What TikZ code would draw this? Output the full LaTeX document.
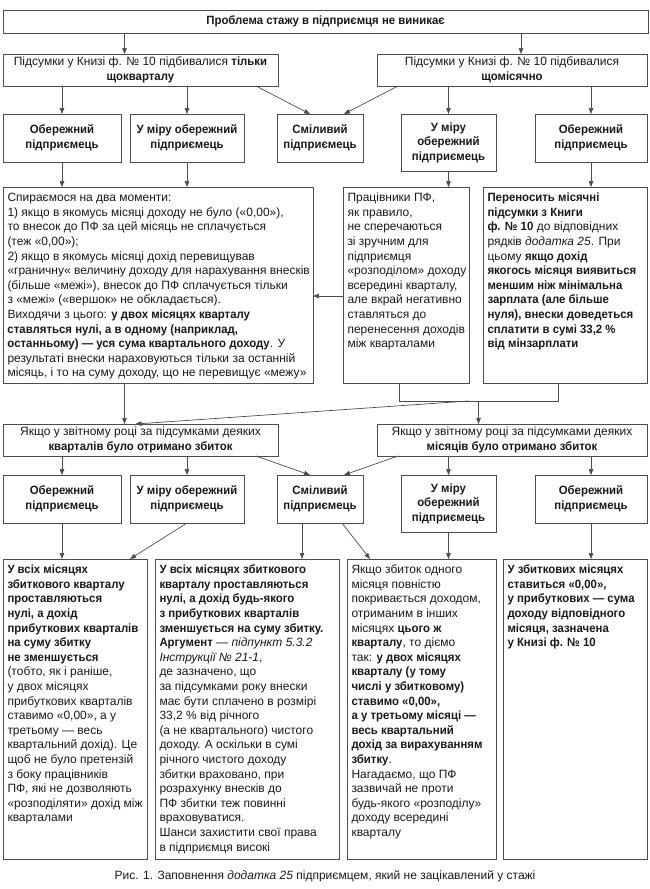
\documentclass[tikz,border=0pt]{standalone}
\usepackage{fontspec}
\setmainfont{Liberation Sans}[BoldFeatures={FakeStretch=0.95}]
\usetikzlibrary{arrows.meta,calc}
\AtBeginDocument{\fontsize{12}{14.6}\selectfont}

\definecolor{linec}{gray}{0.3}
\definecolor{textc}{gray}{0.1}

\tikzstyle{hbox} = [draw=linec, line width=0.9pt, anchor=north west, inner sep=2pt, outer sep=0pt, align=center, text=textc]
\tikzstyle{pbox} = [hbox, font=\bfseries]
\tikzstyle{tbox} = [draw=linec, line width=0.9pt, anchor=north west, inner xsep=4.5pt, inner ysep=4.5pt, outer sep=0pt, text=textc]
\tikzstyle{arr} = [draw=linec, line width=0.7pt, -{Triangle[length=6pt,width=4.5pt]}]
\tikzstyle{conn} = [draw=linec, line width=0.7pt]
\tikzstyle{captext} = [text=textc]

\newcommand{\boxtext}[3]{\parbox[c][#1][t]{#2}{\begin{tabular}[t]{@{}l@{}}#3\end{tabular}}}

\begin{document}
\begin{tikzpicture}[x=1pt,y=-1pt]
\useasboundingbox (0,0) rectangle (650,889);

\node[pbox, minimum width=645pt, minimum height=23pt] (top) at (3,10) {Проблема стажу в підприємця не виникає};

\node[hbox, minimum width=275pt, minimum height=32pt] (r2l) at (3,54) {Підсумки у Книзі ф. № 10 підбивалися \textbf{тільки}\\ \textbf{щокварталу}};
\node[hbox, minimum width=270pt, minimum height=32pt] (r2r) at (377,54) {Підсумки у Книзі ф. № 10 підбивалися\\ \textbf{щомісячно}};

\node[pbox, minimum width=118pt, minimum height=48pt] (r3b1) at (3,114) {Обережний\\ підприємець};
\node[pbox, minimum width=114pt, minimum height=48pt] (r3b2) at (130,114) {У міру обережний\\ підприємець};
\node[pbox, minimum width=86pt, minimum height=48pt] (r3b3) at (277,114) {Сміливий\\ підприємець};
\node[pbox, minimum width=95pt, minimum height=57pt] (r3b4) at (401,114) {У міру\\ обережний\\ підприємець};
\node[pbox, minimum width=112pt, minimum height=48pt] (r3b5) at (535,114) {Обережний\\ підприємець};

\node[tbox] (r4l) at (3,187) {\boxtext{187pt}{301pt}{Спираємося на два моменти:\\
1) якщо в якомусь місяці доходу не було («0,00»),\\
то внесок до ПФ за цей місяць не сплачується\\
(теж «0,00»);\\
2) якщо в якомусь місяці дохід перевищував\\
«граничну« величину доходу для нарахування внесків\\
(більше «межі»), внесок до ПФ сплачується тільки\\
з «межі» («вершок» не обкладається).\\
Виходячи з цього: \textbf{у двох місяцях кварталу}\\
\textbf{ставляться нулі, а в одному (наприклад,}\\
\textbf{останньому) — уся сума квартального доходу}. У\\
результаті внески нараховуються тільки за останній\\
місяць, і то на суму доходу, що не перевищує «межу»}};
\node[tbox] (r4m) at (343,187) {\boxtext{187pt}{117pt}{Працівники ПФ,\\ як правило,\\ не сперечаються\\ зі зручним для\\ підприємця\\ «розподілом» доходу\\ всередині кварталу,\\ але вкрай негативно\\ ставляться до\\ перенесення доходів\\ між кварталами}};
\node[tbox] (r4r) at (483,187) {\boxtext{187pt}{155pt}{\textbf{Переносить місячні}\\ \textbf{підсумки з Книги}\\ \textbf{ф. № 10} до відповідних\\ рядків \textit{додатка 25}. При\\ цьому \textbf{якщо дохід}\\ \textbf{якогось місяця виявиться}\\ \textbf{меншим ніж мінімальна}\\ \textbf{зарплата (але більше}\\ \textbf{нуля), внески доведеться}\\ \textbf{сплатити в сумі 33,2 \%}\\ \textbf{від мінзарплати}}};

\node[hbox, minimum width=275pt, minimum height=32pt] (r5l) at (3,424) {Якщо у звітному році за підсумками деяких\\ \textbf{кварталів було отримано збиток}};
\node[hbox, minimum width=270pt, minimum height=32pt] (r5r) at (377,424) {Якщо у звітному році за підсумками деяких\\ \textbf{місяців було отримано збиток}};

\node[pbox, minimum width=118pt, minimum height=48pt] (r6b1) at (3,475) {Обережний\\ підприємець};
\node[pbox, minimum width=114pt, minimum height=48pt] (r6b2) at (130,475) {У міру обережний\\ підприємець};
\node[pbox, minimum width=86pt, minimum height=48pt] (r6b3) at (277,475) {Сміливий\\ підприємець};
\node[pbox, minimum width=95pt, minimum height=57pt] (r6b4) at (401,475) {У міру\\ обережний\\ підприємець};
\node[pbox, minimum width=112pt, minimum height=48pt] (r6b5) at (535,475) {Обережний\\ підприємець};

\node[tbox] (r7b1) at (3,559) {\boxtext{291pt}{135pt}{\textbf{У всіх місяцях}\\ \textbf{збиткового кварталу}\\ \textbf{проставляються}\\ \textbf{нулі, а дохід}\\ \textbf{прибуткових кварталів}\\ \textbf{на суму збитку}\\ \textbf{не зменшується}\\ (тобто, як і раніше,\\ у двох місяцях\\ прибуткових кварталів\\ ставимо «0,00», а у\\ третьому — весь\\ квартальний дохід). Це\\ щоб не було претензій\\ з боку працівників\\ ПФ, які не дозволяють\\ «розподіляти» дохід між\\ кварталами}};
\node[tbox] (r7b2) at (155,559) {\boxtext{291pt}{175pt}{\textbf{У всіх місяцях збиткового}\\ \textbf{кварталу проставляються}\\ \textbf{нулі, а дохід будь-якого}\\ \textbf{з прибуткових кварталів}\\ \textbf{зменшується на суму збитку.}\\ \textbf{Аргумент} — \textit{підпункт 5.3.2}\\ \textit{Інструкції № 21-1},\\ де зазначено, що\\ за підсумками року внески\\ має бути сплачено в розмірі\\ 33,2 \% від річного\\ (а не квартального) чистого\\ доходу. А оскільки в сумі\\ річного чистого доходу\\ збитки враховано, при\\ розрахунку внесків до\\ ПФ збитки теж повинні\\ враховуватися.\\ Шанси захистити свої права\\ в підприємця високі}};
\node[tbox] (r7b3) at (347,559) {\boxtext{291pt}{140pt}{Якщо збиток одного\\ місяця повністю\\ покривається доходом,\\ отриманим в інших\\ місяцях \textbf{цього ж}\\ \textbf{кварталу}, то діємо\\ так: \textbf{у двох місяцях}\\ \textbf{кварталу (у тому}\\ \textbf{числі у збитковому)}\\ \textbf{ставимо «0,00»,}\\ \textbf{а у третьому місяці —}\\ \textbf{весь квартальний}\\ \textbf{дохід за вирахуванням}\\ \textbf{збитку}.\\ Нагадаємо, що ПФ\\ зазвичай не проти\\ будь-якого «розподілу»\\ доходу всередині\\ кварталу}};
\node[tbox] (r7b4) at (503,559) {\boxtext{291pt}{135pt}{\textbf{У збиткових місяцях}\\ \textbf{ставиться «0,00»,}\\ \textbf{у прибуткових — сума}\\ \textbf{доходу відповідного}\\ \textbf{місяця, зазначена}\\ \textbf{у Книзі ф. № 10}}};

\node[captext] (caption) at (325,876) {Рис. 1. Заповнення \textit{додатка 25} підприємцем, який не зацікавлений у стажі};

\coordinate (t2l) at ([xshift=-16pt]r2l.north);
\coordinate (t2r) at ([xshift=9pt]r2r.north);
\draw[arr] (t2l |- top.south) -- (t2l);
\draw[arr] (t2r |- top.south) -- (t2r);

\draw[arr] (r3b1.north |- r2l.south) -- (r3b1.north);
\draw[arr] (r3b2.north |- r2l.south) -- (r3b2.north);
\draw[arr] ([xshift=-22pt]r2l.south east) -- ([xshift=-10pt]r3b3.north);
\draw[arr] ([xshift=21pt]r2r.south west) -- ([xshift=24pt]r3b3.north);
\draw[arr] (r3b4.north |- r2r.south) -- (r3b4.north);
\draw[arr] (r3b5.north |- r2r.south) -- (r3b5.north);

\draw[arr] (r3b1.south) -- (r3b1.south |- r4l.north);
\draw[arr] (r3b2.south) -- (r3b2.south |- r4l.north);
\draw[arr] (r3b4.south) -- (r3b4.south |- r4m.north);
\draw[arr] (r3b5.south) -- (r3b5.south |- r4r.north);

\coordinate (mw) at ([yshift=-11pt]r4m.west);
\draw[arr] (mw) -- (mw -| r4l.east);

\draw[conn] ([xshift=-7pt]r4m.south) -- ++(0,18) -| ([xshift=-7pt]r4r.south);
\coordinate (mrg) at ($([xshift=-7pt]r4m.south)!.5!([xshift=-7pt]r4r.south)+(0,18)$);
\coordinate (l5) at ([xshift=-16pt]r5l.north);
\draw[arr] (l5 |- r4l.south) -- (l5);
\draw[arr] ([xshift=-10pt]mrg) -- ([xshift=-5pt]r5l.north);
\draw[arr] (mrg) -- (mrg |- r5r.north);

\draw[arr] (r6b1.north |- r5l.south) -- (r6b1.north);
\draw[arr] (r6b2.north |- r5l.south) -- (r6b2.north);
\draw[arr] ([xshift=-22pt]r5l.south east) -- ([xshift=-10pt]r6b3.north);
\draw[arr] ([xshift=21pt]r5r.south west) -- ([xshift=24pt]r6b3.north);
\draw[arr] (r6b4.north |- r5r.south) -- (r6b4.north);
\draw[arr] (r6b5.north |- r5r.south) -- (r6b5.north);

\coordinate (s6) at ([xshift=-18pt]r6b3.south);
\draw[arr] (r6b1.south) -- (r6b1.south |- r7b1.north);
\draw[arr] (r6b2.south) -- ([xshift=-17pt]r7b1.north east);
\draw[arr] (s6) -- (s6 |- r7b2.north);
\draw[arr] ([xshift=22pt]r6b3.south) -- ([xshift=23pt]r7b3.north west);
\draw[arr] (r6b4.south) -- (r6b4.south |- r7b3.north);
\draw[arr] (r6b5.south) -- (r6b5.south |- r7b4.north);
\end{tikzpicture}
\end{document}
